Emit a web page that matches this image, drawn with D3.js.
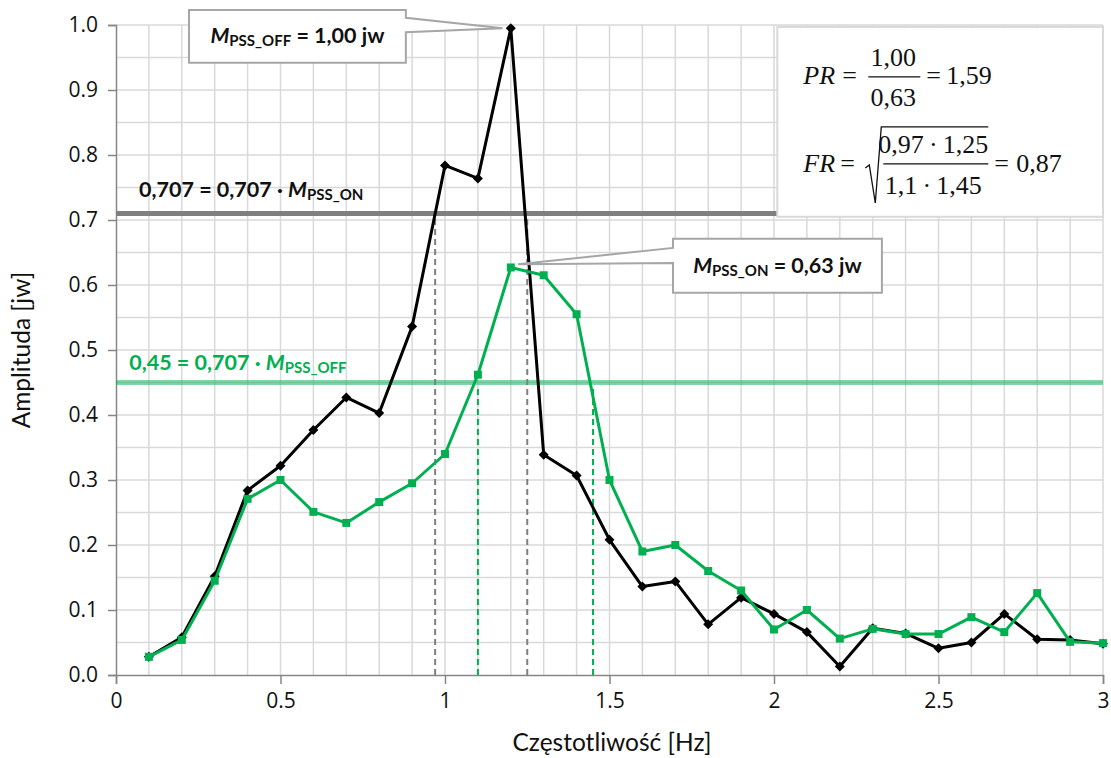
<!DOCTYPE html>
<html>
<head>
<meta charset="utf-8">
<script src="https://cdn.jsdelivr.net/npm/d3@7"></script>
<style>
  body { margin: 0; background: #fff; }
  svg { display: block; }
</style>
</head>
<body>
<svg id="chart" width="1111" height="758"></svg>
<script>
// Frequency grid [Hz]
const freq = [0.1, 0.2, 0.3, 0.4, 0.5, 0.6, 0.7, 0.8, 0.9, 1.0,
              1.1, 1.2, 1.3, 1.4, 1.5, 1.6, 1.7, 1.8, 1.9, 2.0,
              2.1, 2.2, 2.3, 2.4, 2.5, 2.6, 2.7, 2.8, 2.9, 3.0];
// Amplitude without stabiliser (PSS off) [jw]
const ampPssOff = [0.028, 0.058, 0.152, 0.284, 0.322, 0.377, 0.427, 0.403, 0.536, 0.784,
                   0.764, 0.995, 0.339, 0.307, 0.208, 0.136, 0.144, 0.078, 0.119, 0.094,
                   0.066, 0.013, 0.072, 0.064, 0.041, 0.050, 0.094, 0.055, 0.054, 0.048];
// Amplitude with stabiliser (PSS on) [jw]
const ampPssOn = [0.028, 0.054, 0.145, 0.271, 0.300, 0.251, 0.234, 0.266, 0.295, 0.340,
                  0.462, 0.627, 0.615, 0.555, 0.300, 0.190, 0.200, 0.160, 0.130, 0.070,
                  0.100, 0.056, 0.071, 0.063, 0.063, 0.089, 0.066, 0.126, 0.051, 0.049];
// Axis ticks
const xTicks = [0, 0.5, 1, 1.5, 2, 2.5, 3];
const yTicks = [0, 0.1, 0.2, 0.3, 0.4, 0.5, 0.6, 0.7, 0.8, 0.9, 1.0];
// Threshold levels and band-edge frequencies
const levelOff = 0.71;     // 0,707 * M_PSS_ON reference
const levelOn = 0.45;      // 0,707 * M_PSS_OFF
const bandOff = [0.97, 1.25];
const bandOn = [1.1, 1.45];
const peakOff = { f: 1.2, a: 0.995 };
const peakOn = { f: 1.2, a: 0.627 };

const svg = d3.select("#chart");
const x = d3.scaleLinear().domain([0, 3]).range([116, 1103]);
const y = d3.scaleLinear().domain([0, 1]).range([675, 25]);

const GRID = "#d9d9d9", AXIS = "#868686", GREEN = "#00b050";

// Grid: every 0.1 Hz and every 0.05 jw
const gx = d3.range(1, 31).map(i => i / 10);
const gy = d3.range(1, 21).map(i => i / 20);
svg.append("g").selectAll("line").data(gx).join("line")
  .attr("x1", d => x(d)).attr("x2", d => x(d))
  .attr("y1", y(0)).attr("y2", y(1))
  .attr("stroke", GRID).attr("stroke-width", 1.5);
svg.append("g").selectAll("line").data(gy).join("line")
  .attr("x1", x(0)).attr("x2", x(3))
  .attr("y1", d => y(d)).attr("y2", d => y(d))
  .attr("stroke", GRID).attr("stroke-width", 1.5);

// Axes
const tickFont = "'Open Sans', sans-serif";
const yAxis = svg.append("g").attr("transform", `translate(${x(0)},0)`)
  .call(d3.axisLeft(y).tickValues(yTicks).tickFormat(d3.format(".1f")).tickSizeOuter(0).tickSize(8).tickPadding(10));
const xAxis = svg.append("g").attr("transform", `translate(0,${y(0)})`)
  .call(d3.axisBottom(x).tickValues(xTicks).tickFormat(d3.format("")).tickSizeOuter(0).tickSize(9).tickPadding(9));
[yAxis, xAxis].forEach(a => {
  a.select(".domain").attr("stroke", AXIS).attr("stroke-width", 1.5);
  a.selectAll(".tick line").attr("stroke", AXIS).attr("stroke-width", 1.5);
  a.selectAll(".tick text").attr("fill", "#111").style("font-family", tickFont).style("font-size", "21px");
});

// Axis titles
svg.append("text")
  .attr("x", 612).attr("y", 751)
  .attr("text-anchor", "middle")
  .style("font-family", "Lato, sans-serif").style("font-size", "24.5px").attr("fill", "#111")
  .text("Częstotliwość [Hz]");
svg.append("text")
  .attr("transform", `translate(30,${(y(0) + y(1)) / 2}) rotate(-90)`)
  .attr("text-anchor", "middle")
  .style("font-family", "Lato, sans-serif").style("font-size", "24.5px").attr("fill", "#111")
  .text("Amplituda [jw]");

// Threshold lines
svg.append("line")
  .attr("x1", x(0)).attr("x2", x(3)).attr("y1", y(levelOn)).attr("y2", y(levelOn))
  .attr("stroke", GREEN).attr("stroke-opacity", 0.5).attr("stroke-width", 5);
svg.append("line")
  .attr("x1", x(0)).attr("x2", x(3)).attr("y1", y(levelOff)).attr("y2", y(levelOff))
  .attr("stroke", "#7f7f7f").attr("stroke-width", 5);

// Dashed band-edge markers
svg.append("g").selectAll("line").data(bandOff).join("line")
  .attr("x1", d => x(d)).attr("x2", d => x(d))
  .attr("y1", y(0)).attr("y2", y(levelOff) + 3)
  .attr("stroke", "#7f7f7f").attr("stroke-width", 2).attr("stroke-dasharray", "6,4");
svg.append("g").selectAll("line").data(bandOn).join("line")
  .attr("x1", d => x(d)).attr("x2", d => x(d))
  .attr("y1", y(0)).attr("y2", y(levelOn) + 3)
  .attr("stroke", GREEN).attr("stroke-width", 2).attr("stroke-dasharray", "6,4");

// Threshold labels
const labFont = "Lato, sans-serif";
function mLabel(sel, pre, sub, post, color, size) {
  const t = sel.append("text").attr("fill", color)
    .style("font-family", labFont).style("font-weight", "bold").style("font-size", size + "px");
  if (pre) t.append("tspan").text(pre);
  t.append("tspan").style("font-style", "italic").text("M");
  t.append("tspan").style("font-size", Math.round(size * 0.68) + "px").attr("dy", 3).text(sub);
  if (post) t.append("tspan").attr("dy", -3).text(post);
  return t;
}
mLabel(svg, "0,707 = 0,707 · ", "PSS_ON", null, "#111", 21.5)
  .attr("x", x(0.07)).attr("y", y(0.735));
mLabel(svg, "0,45 = 0,707 · ", "PSS_OFF", null, GREEN, 21.5)
  .attr("x", x(0.04)).attr("y", y(0.469));

// Formula panel
const fb = { x0: 2.01, x1: 3.0, y0: 0.997, y1: 0.705 };
svg.append("rect")
  .attr("x", x(fb.x0)).attr("y", y(fb.y0))
  .attr("width", x(fb.x1) - x(fb.x0)).attr("height", y(fb.y1) - y(fb.y0))
  .attr("fill", "#fff").attr("stroke", GRID).attr("stroke-width", 2);

const fx = x(fb.x0), fy = y(fb.y0);
const serif = "'Liberation Serif', 'Times New Roman', serif";
const fg = svg.append("g").attr("transform", `translate(${fx},${fy})`)
  .style("font-family", serif).style("font-size", "26px").attr("fill", "#111");
// PR row
fg.append("text").attr("x", 26).attr("y", 57).style("font-style", "italic").text("PR");
fg.append("text").attr("x", 65).attr("y", 57).text("=");
fg.append("text").attr("x", 116).attr("y", 39).attr("text-anchor", "middle").text("1,00");
fg.append("line").attr("x1", 91).attr("x2", 143).attr("y1", 50).attr("y2", 50).attr("stroke", "#111").attr("stroke-width", 1.3);
fg.append("text").attr("x", 116).attr("y", 79).attr("text-anchor", "middle").text("0,63");
fg.append("text").attr("x", 149).attr("y", 57).text("=");
fg.append("text").attr("x", 169).attr("y", 57).text("1,59");
// FR row
fg.append("text").attr("x", 26).attr("y", 145).style("font-style", "italic").text("FR");
fg.append("text").attr("x", 63).attr("y", 145).text("=");
fg.append("path")
  .attr("d", "M88,141 L92,138 L98,176 L104,100 L211,100")
  .attr("fill", "none").attr("stroke", "#111").attr("stroke-width", 1.3);
fg.append("text").attr("x", 156).attr("y", 126).attr("text-anchor", "middle").text("0,97\u2009·\u20091,25");
fg.append("line").attr("x1", 106).attr("x2", 211).attr("y1", 137).attr("y2", 137).attr("stroke", "#111").attr("stroke-width", 1.3);
fg.append("text").attr("x", 156).attr("y", 167).attr("text-anchor", "middle").text("1,1\u2009·\u20091,45");
fg.append("text").attr("x", 217).attr("y", 145).text("=");
fg.append("text").attr("x", 239).attr("y", 145).text("0,87");

// Series
const line = d3.line().x(d => x(d[0])).y(d => y(d[1]));
const offPts = freq.map((f, i) => [f, ampPssOff[i]]);
const onPts = freq.map((f, i) => [f, ampPssOn[i]]);

svg.append("path").datum(offPts).attr("d", line)
  .attr("fill", "none").attr("stroke", "#000").attr("stroke-width", 3).attr("stroke-linejoin", "round");
svg.append("g").selectAll("path").data(offPts).join("path")
  .attr("d", d3.symbol(d3.symbolDiamond2, 64))
  .attr("transform", d => `translate(${x(d[0])},${y(d[1])})`)
  .attr("fill", "#000");

svg.append("path").datum(onPts).attr("d", line)
  .attr("fill", "none").attr("stroke", GREEN).attr("stroke-width", 3).attr("stroke-linejoin", "round");
svg.append("g").selectAll("rect").data(onPts).join("rect")
  .attr("x", d => x(d[0]) - 4).attr("y", d => y(d[1]) - 4)
  .attr("width", 8).attr("height", 8).attr("fill", GREEN);

// Callouts
function callout(box, tip, side, attach) {
  const X0 = x(box.x0), X1 = x(box.x1), Y0 = y(box.y0), Y1 = y(box.y1);
  const A = y(attach[0]), B = y(attach[1]);
  const tx = x(tip.f), ty = y(tip.a);
  const p = d3.path();
  p.moveTo(X0, Y0);
  p.lineTo(X1, Y0);
  if (side === "right") { p.lineTo(X1, A); p.lineTo(tx, ty); p.lineTo(X1, B); }
  p.lineTo(X1, Y1);
  p.lineTo(X0, Y1);
  if (side === "left") { p.lineTo(X0, B); p.lineTo(tx, ty); p.lineTo(X0, A); }
  p.closePath();
  svg.append("path").attr("d", p.toString())
    .attr("fill", "#fff").attr("stroke", "#a6a6a6").attr("stroke-width", 2);
  return { cx: (X0 + X1) / 2, cy: (Y0 + Y1) / 2 };
}
const c1 = callout({ x0: 0.222, x1: 0.881, y0: 1.023, y1: 0.942 },
                   { f: peakOff.f - 0.025, a: peakOff.a }, "right", [1.011, 0.989]);
mLabel(svg, null, "PSS_OFF", " = 1,00 jw", "#111", 21.5)
  .attr("x", c1.cx).attr("y", c1.cy + 7).attr("text-anchor", "middle");
const c2 = callout({ x0: 1.693, x1: 2.328, y0: 0.671, y1: 0.588 },
                   { f: peakOn.f + 0.022, a: peakOn.a + 0.005 }, "left", [0.657, 0.634]);
mLabel(svg, null, "PSS_ON", " = 0,63 jw", "#111", 21.5)
  .attr("x", c2.cx).attr("y", c2.cy + 7).attr("text-anchor", "middle");
</script>
</body>
</html>
